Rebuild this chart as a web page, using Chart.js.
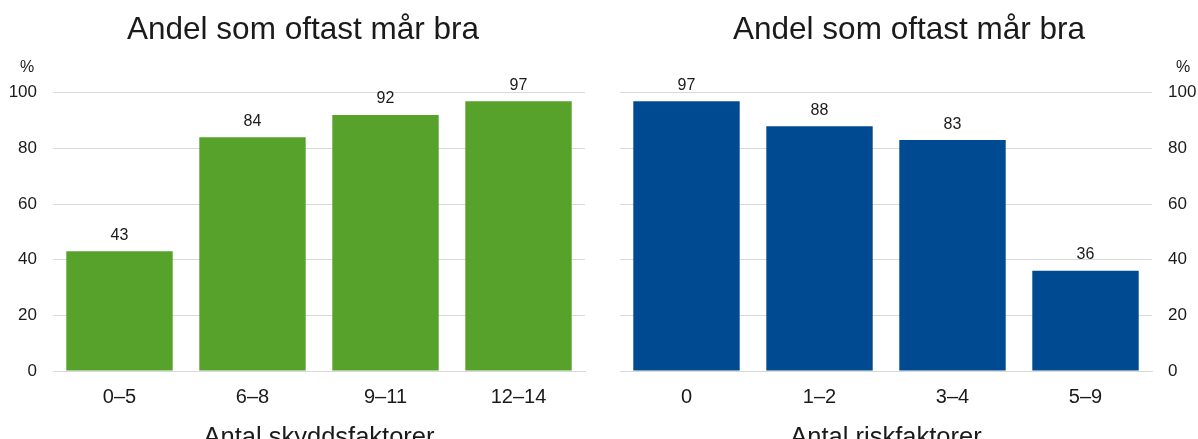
<!DOCTYPE html>
<html>
<head>
<meta charset="utf-8">
<script src="https://cdn.jsdelivr.net/npm/chart.js@4"></script>
<style>
  html, body { margin: 0; padding: 0; background: #fff; overflow: hidden; }
  #wrap { width: 1198px; height: 439px; overflow: hidden; position: relative; }
  .box { position: absolute; top: 0; width: 599px; height: 470px; }
  #leftBox { left: 0; }
  #rightBox { left: 599px; }
</style>
</head>
<body>
<div id="wrap">
  <div class="box" id="leftBox"><canvas id="skydd" width="599" height="470"></canvas></div>
  <div class="box" id="rightBox"><canvas id="risk" width="599" height="470"></canvas></div>
</div>
<script>
// data
const titleText = 'Andel som oftast mår bra';
const skyddLabels = ['0–5', '6–8', '9–11', '12–14'];
const skyddValues = [43, 84, 92, 97];
const riskLabels = ['0', '1–2', '3–4', '5–9'];
const riskValues = [97, 88, 83, 36];

const FONT = "'Liberation Sans', Arial, sans-serif";
const TEXT = '#1a1a1a';
const GRID = '#d9d9d9';

// value labels above bars + "%" marker, title nudge
const barValues = {
  id: 'barValues',
  afterLayout(chart, args, opts) {
    if (chart.titleBlock) chart.titleBlock.left += opts.titleShift;
  },
  afterDatasetsDraw(chart, args, opts) {
    const ctx = chart.ctx;
    ctx.save();
    ctx.font = '16px ' + FONT;
    ctx.fillStyle = TEXT;
    ctx.textAlign = 'center';
    ctx.textBaseline = 'middle';
    chart.getDatasetMeta(0).data.forEach((bar, i) => {
      ctx.fillText(chart.data.datasets[0].data[i], bar.x, bar.y - 16);
    });
    ctx.fillText('%', opts.pctX, 68);
    ctx.restore();
  }
};

function makeChart(id, labels, values, color, axisTitle, side) {
  const left = side === 'left';
  return new Chart(document.getElementById(id), {
    type: 'bar',
    data: {
      labels: labels,
      datasets: [{ data: values, backgroundColor: color, barPercentage: 0.8, categoryPercentage: 1 }]
    },
    options: {
      responsive: false,
      animation: false,
      layout: { padding: { left: left ? 0 : 21, right: left ? 14 : 0, top: 0, bottom: 17 } },
      plugins: {
        legend: { display: false },
        tooltip: { enabled: false },
        title: {
          display: true, text: titleText, color: TEXT,
          font: { family: FONT, size: 31.5, weight: 'normal' },
          padding: { top: 11, bottom: 44 }
        },
        barValues: { pctX: left ? 27 : 584, titleShift: left ? 21 : 0 }
      },
      scales: {
        x: {
          grid: { display: false, drawTicks: false },
          border: { color: GRID, width: 1 },
          ticks: { color: TEXT, font: { family: FONT, size: 20 }, padding: 14 },
          title: { display: true, text: axisTitle, color: TEXT, font: { family: FONT, size: 25.5 }, padding: { top: 0, bottom: 0 } },
          afterFit: s => { s.height = 82; }
        },
        y: {
          position: side,
          min: 0, max: 100,
          ticks: { stepSize: 20, color: TEXT, font: { family: FONT, size: 17 }, padding: 16 },
          grid: { color: GRID, drawTicks: false },
          border: { display: false },
          afterFit: s => { s.width = left ? 53 : 46; }
        }
      }
    },
    plugins: [barValues]
  });
}

makeChart('skydd', skyddLabels, skyddValues, '#56a22b', 'Antal skyddsfaktorer', 'left');
makeChart('risk', riskLabels, riskValues, '#004a91', 'Antal riskfaktorer', 'right');
</script>
</body>
</html>
